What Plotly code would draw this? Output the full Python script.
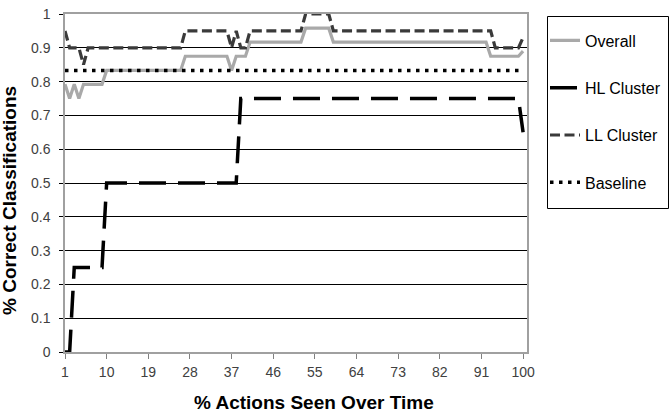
import plotly.graph_objects as go

# --- data (breakpoints of each step line; straight segments between them) ---
overall_x = [1, 2, 3, 4, 5, 9, 10, 26, 27, 36, 37, 38, 40, 41, 52, 53, 58, 59, 92, 93, 99, 100]
overall_y = [0.792, 0.75, 0.792, 0.75, 0.792, 0.792, 0.833, 0.833, 0.875, 0.875, 0.833, 0.875,
             0.875, 0.917, 0.917, 0.958, 0.958, 0.917, 0.917, 0.875, 0.875, 0.89]

hl_x = [1, 2, 3, 9, 10, 38, 39, 99, 100]
hl_y = [0, 0, 0.25, 0.25, 0.5, 0.5, 0.75, 0.75, 0.65]

ll_x = [1, 2, 4, 5, 6, 26, 27, 36, 37, 38, 39, 40, 41, 52, 53, 58, 59, 93, 94, 99, 100]
ll_y = [0.95, 0.9, 0.9, 0.85, 0.9, 0.9, 0.95, 0.95, 0.9, 0.95, 0.9, 0.9, 0.95, 0.95, 1.0,
        1.0, 0.95, 0.95, 0.9, 0.9, 0.93]

baseline_x = [1, 100]
baseline_y = [0.833, 0.833]

x_ticks = [1, 10, 19, 28, 37, 46, 55, 64, 73, 82, 91, 100]
y_ticks = [0, 0.1, 0.2, 0.3, 0.4, 0.5, 0.6, 0.7, 0.8, 0.9, 1]
y_ticktext = ["0", "0.1", "0.2", "0.3", "0.4", "0.5", "0.6", "0.7", "0.8", "0.9", "1"]

FONT = "Liberation Sans, Arial, sans-serif"

fig = go.Figure()
fig.add_trace(go.Scatter(x=overall_x, y=overall_y, mode="lines", name="Overall",
                         legendgroup="a",
                         line=dict(color="#a9a9a9", width=3.2)))
fig.add_trace(go.Scatter(x=hl_x, y=hl_y, mode="lines", name="HL Cluster",
                         legendgroup="b",
                         line=dict(color="#000000", width=3.5, dash="27px,12px")))
fig.add_trace(go.Scatter(x=ll_x, y=ll_y, mode="lines", name="LL Cluster",
                         legendgroup="c",
                         line=dict(color="#3a3a3a", width=3.2, dash="10px,4.5px")))
fig.add_trace(go.Scatter(x=baseline_x, y=baseline_y, mode="lines", name="Baseline",
                         legendgroup="d",
                         line=dict(color="#000000", width=3.5, dash="3.5px,5.5px")))

L, T, W, H = 65, 14, 462, 338

def px_x(p):
    return (p - L) / W

def px_y(p):
    return (T + H - p) / H

fig.update_layout(
    width=672, height=420,
    margin=dict(l=L, r=672 - L - W, t=T, b=420 - T - H, pad=0, autoexpand=False),
    paper_bgcolor="white", plot_bgcolor="white",
    font=dict(family=FONT, size=14, color="#404040"),
    showlegend=True,
    legend=dict(
        x=px_x(545), xanchor="left",
        y=px_y(23.5), yanchor="top",
        borderwidth=0, bgcolor="rgba(0,0,0,0)",
        font=dict(family=FONT, size=16, color="#000000"),
        tracegroupgap=23.5,
    ),
    shapes=[
        dict(type="rect", xref="paper", yref="paper",
             x0=px_x(547.5), x1=px_x(668.5), y0=px_y(16.5), y1=px_y(208.5),
             line=dict(color="#000000", width=1), fillcolor="rgba(0,0,0,0)",
             layer="below"),
    ],
    xaxis=dict(
        range=[1, 100.85], tickmode="array", tickvals=x_ticks,
        showgrid=False, zeroline=False,
        showline=True, linecolor="#a0a0a0", linewidth=1.5, mirror=True,
        ticks="outside", ticklen=5, tickcolor="#808080", tickwidth=1,
        tickfont=dict(family=FONT, size=14, color="#404040"),
        ticklabelstandoff=1,
        layer="below traces",
    ),
    yaxis=dict(
        range=[0, 1], tickmode="array", tickvals=y_ticks, ticktext=y_ticktext,
        showgrid=True, gridcolor="#000000", gridwidth=1, zeroline=False,
        showline=True, linecolor="#a0a0a0", linewidth=1.5, mirror=True,
        ticks="outside", ticklen=4, tickcolor="#000000", tickwidth=1,
        tickfont=dict(family=FONT, size=14, color="#404040"),
        ticklabelstandoff=6,
        layer="below traces",
    ),
    annotations=[
        dict(text="<b>% Correct Classifications</b>", textangle=-90,
             xref="paper", yref="paper",
             x=px_x(9), y=px_y(201),
             xanchor="center", yanchor="middle", showarrow=False,
             font=dict(family=FONT, size=19, color="#000000")),
        dict(text="<b>% Actions Seen Over Time</b>",
             xref="paper", yref="paper",
             x=px_x(314), y=px_y(402),
             xanchor="center", yanchor="middle", showarrow=False,
             font=dict(family=FONT, size=19, color="#000000")),
    ],
)

fig.write_html("out.html")
